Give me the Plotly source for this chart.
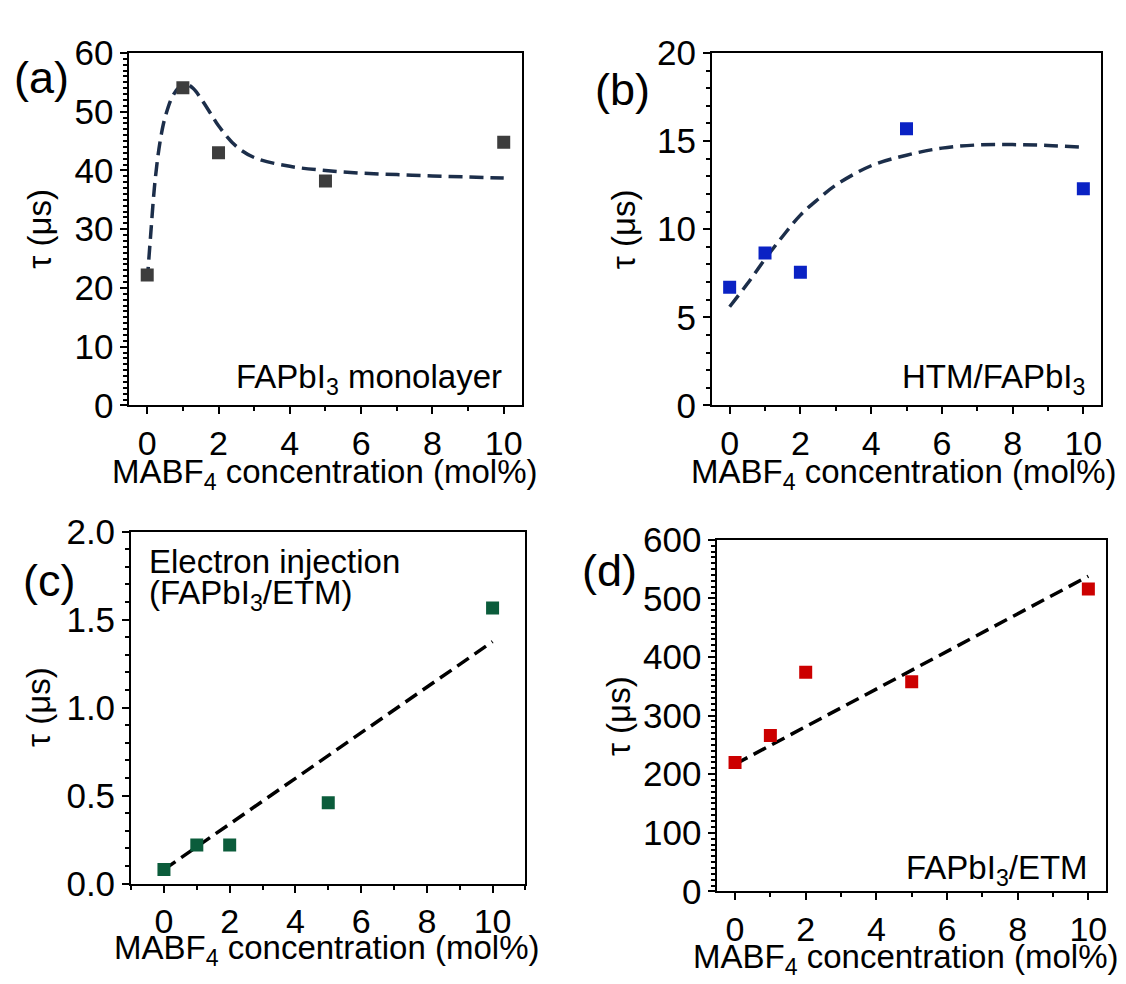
import plotly.graph_objects as go

W, H = 1126, 984
FONT = "Liberation Sans, Arial, sans-serif"

# ---------------- data ----------------
conc = [0, 1, 2, 5, 10]

tau_a = [22.2, 54.1, 43.0, 38.2, 44.8]
tau_b = [6.7, 8.65, 7.55, 15.7, 12.3]
tau_c = [0.08, 0.22, 0.22, 0.46, 1.565]
tau_d = [220, 266, 374, 358, 516]

fit_a_x = [0, 0.1, 0.2, 0.3, 0.4, 0.5, 0.7, 0.9, 1.1, 1.3, 1.5, 1.8, 2.0, 2.5, 3.0, 4.0, 5.0, 6.0, 7.0, 8.0, 9.0, 10.0]
fit_a_y = [21.2, 29.3, 37.0, 42.4, 46.3, 49.0, 52.5, 54.2, 54.7, 53.9, 52.3, 49.5, 47.6, 44.1, 42.2, 40.7, 40.0, 39.55, 39.3, 39.06, 38.9, 38.7]

fit_b_x = [0, 0.5, 1, 1.5, 2, 2.5, 3, 4, 5, 6, 7, 8, 9, 10]
fit_b_y = [5.6, 6.9, 8.3, 9.6, 10.8, 11.7, 12.5, 13.6, 14.2, 14.6, 14.78, 14.8, 14.75, 14.65]

fit_c_x = [0, 10]
fit_c_y = [0.08, 1.375]

fit_d_x = [0, 10]
fit_d_y = [217, 538]

x_ticks = [0, 2, 4, 6, 8, 10]
x_title = "MABF<sub>4</sub> concentration (mol%)"
y_title = "τ (μs)"

# ---------------- layout helpers ----------------
def px_x(p):
    return p / W

def px_y(p):
    return 1 - p / H

panels = [
    dict(xd=(121.5, 514), yd=(26, 393), xr=[-0.5, 10.5], yr=[0, 60], ydt=10, ymn=1, fmt="d",
         mc="#3d3d3d", fc="#1c2e4a", y=tau_a, fx=fit_a_x, fy=fit_a_y),
    dict(xd=(704.6, 1094), yd=(26, 393), xr=[-0.5, 10.5], yr=[0, 20], ydt=5, ymn=1, fmt="d",
         mc="#0a22c4", fc="#1c2e4a", y=tau_b, fx=fit_b_x, fy=fit_b_y),
    dict(xd=(123.2, 517.9), yd=(524.3, 891), xr=[-1, 11], yr=[0, 2.0], ydt=0.5, ymn=0.1, fmt=".1f",
         mc="#0b5c3b", fc="#000000", y=tau_c, fx=fit_c_x, fy=fit_c_y),
    dict(xd=(710, 1099), yd=(533, 899), xr=[-0.5, 10.5], yr=[0, 600], ydt=100, ymn=10, fmt="d",
         mc="#cc0000", fc="#000000", y=tau_d, fx=fit_d_x, fy=fit_d_y),
]

fig = go.Figure()
layout = dict(
    width=W, height=H,
    margin=dict(l=0, r=0, t=0, b=0),
    paper_bgcolor="white", plot_bgcolor="white",
    showlegend=False,
    font=dict(family=FONT, color="black"),
)

for i, p in enumerate(panels):
    n = "" if i == 0 else str(i + 1)
    xa, ya = "x" + n, "y" + n
    fig.add_trace(go.Scatter(
        x=p["fx"], y=p["fy"], mode="lines", line_shape="spline",
        line=dict(color=p["fc"], width=3.5, dash="14px,7px"),
        xaxis=xa, yaxis=ya, hoverinfo="skip"))
    fig.add_trace(go.Scatter(
        x=conc, y=p["y"], mode="markers",
        marker=dict(symbol="square", size=13, color=p["mc"], line=dict(width=0)),
        xaxis=xa, yaxis=ya))
    common = dict(showline=True, linecolor="black", linewidth=2, mirror=True,
                  ticks="outside", tickwidth=2, ticklen=7, tickcolor="black",
                  showgrid=False, zeroline=False)
    layout["xaxis" + n] = dict(
        domain=[px_x(p["xd"][0]), px_x(p["xd"][1])], range=p["xr"],
        anchor=ya, tickmode="array", tickvals=x_ticks,
        tickfont=dict(family=FONT, size=34, color="black"),
        minor=dict(dtick=1, tick0=1, ticks="outside", ticklen=4, tickwidth=2, tickcolor="black"),
        **common)
    layout["yaxis" + n] = dict(
        domain=[px_y(p["yd"][1]), px_y(p["yd"][0])], range=p["yr"],
        anchor=xa, dtick=p["ydt"], tick0=0, tickformat=p["fmt"],
        tickfont=dict(family=FONT, size=35, color="black"),
        minor=dict(dtick=p["ymn"], tick0=0, ticks="outside", ticklen=4, tickwidth=1.5, tickcolor="black"),
        **common)

fig.update_layout(**layout)

ann = []
def add_text(text, x, y, size, xanchor="center", yanchor="middle", angle=0):
    ann.append(dict(text=text, x=px_x(x), y=px_y(y), xref="paper", yref="paper",
                    xanchor=xanchor, yanchor=yanchor, showarrow=False, textangle=angle,
                    font=dict(family=FONT, size=size, color="black")))

# x titles
add_text(x_title, 317, 464, 33)
add_text(x_title, 896, 464, 33)
add_text(x_title, 319, 960, 33)
add_text(x_title, 898, 969, 33)
# y titles
add_text(y_title, 32, 209, 33, angle=-90)
add_text(y_title, 616, 209, 33, angle=-90)
add_text(y_title, 31, 707, 33, angle=-90)
add_text(y_title, 611, 716, 33, angle=-90)
# panel labels
add_text("(a)", 34, 52, 45)
add_text("(b)", 615, 64, 45)
add_text("(c)", 41, 575, 45)
add_text("(d)", 602, 565, 45)
# inner labels
add_text("FAPbI<sub>3</sub> monolayer", 496, 366, 33, xanchor="right")
add_text("HTM/FAPbI<sub>3</sub>", 1080, 366, 33, xanchor="right")
add_text("Electron injection", 139, 555, 33, xanchor="left")
add_text("(FAPbI<sub>3</sub>/ETM)", 139, 590, 33, xanchor="left")
add_text("FAPbI<sub>3</sub>/ETM", 1083, 877, 33, xanchor="right")

fig.update_layout(annotations=ann)
fig.write_html("out.html")
